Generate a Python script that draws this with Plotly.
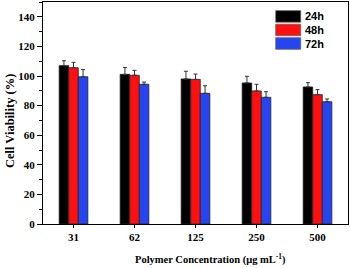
import plotly.graph_objects as go

categories = ["31", "62", "125", "250", "500"]
series_names = ["24h", "48h", "72h"]
v24 = [107.0, 101.1, 98.0, 95.3, 92.6]
v48 = [105.6, 100.5, 97.7, 89.9, 87.4]
v72 = [99.5, 94.4, 88.3, 85.6, 82.6]
e24 = [3.3, 4.7, 5.2, 4.5, 2.9]
e48 = [3.6, 3.3, 3.6, 4.5, 3.4]
e72 = [4.8, 1.5, 5.1, 3.8, 1.9]
colors = ["#000000", "#ff1010", "#2445f0"]
y_ticks = [0, 20, 40, 60, 80, 100, 120, 140]

fig = go.Figure()
for name, vals, errs, col in zip(series_names, [v24, v48, v72], [e24, e48, e72], colors):
    fig.add_trace(go.Bar(
        x=categories, y=vals, name=name,
        marker=dict(color=col, line=dict(color="#222222", width=0.8)),
        error_y=dict(type="data", array=errs, arrayminus=[0]*len(errs), symmetric=False,
                     color="#333333", thickness=1, width=2),
        showlegend=False,
    ))

# legend drawn manually
leg_x0, leg_x1 = 0.763, 0.845
leg_tops = [0.961, 0.900, 0.839]
for name, col, top in zip(series_names, colors, leg_tops):
    fig.add_shape(type="rect", xref="paper", yref="paper",
                  x0=leg_x0, x1=leg_x1, y0=top - 0.052, y1=top,
                  fillcolor=col, line=dict(color="#666666", width=0.8))
    fig.add_annotation(xref="paper", yref="paper", x=leg_x1 + 0.006, y=top - 0.026,
                       text="<b>%s</b>" % name, showarrow=False, xanchor="left", yanchor="middle",
                       font=dict(family="Liberation Sans, Arial", size=11, color="black"))

# axis titles
fig.add_annotation(xref="paper", yref="paper", x=0.55, y=-0.158, yanchor="middle", xanchor="center",
                   text="<b>Polymer Concentration (μg mL<sup>-1</sup>)</b>", showarrow=False,
                   font=dict(family="Liberation Serif", size=10.5, color="black"))
fig.add_annotation(xref="paper", yref="paper", x=-0.108, y=0.464, xanchor="center", yanchor="middle",
                   text="<b>Cell Viability (%)</b>", showarrow=False, textangle=-90,
                   font=dict(family="Liberation Serif", size=12.5, color="black"))

fig.update_layout(
    width=350, height=268,
    margin=dict(l=43, r=2, t=2, b=44),
    plot_bgcolor="white", paper_bgcolor="white",
    barmode="group", bargap=0.53, bargroupgap=0,
    font=dict(family="Liberation Serif, Times New Roman", size=10.5, color="black"),
    xaxis=dict(
        type="category", range=[-0.5, 4.5],
        showline=True, linecolor="black", linewidth=1.2, mirror=True,
        ticks="outside", ticklen=3, tickcolor="black",
        tickvals=categories, ticktext=["<b>%s</b>" % c for c in categories],
        tickfont=dict(family="Liberation Serif", size=11, color="black"),
    ),
    yaxis=dict(
        range=[0, 150], tickvals=y_ticks,
        ticktext=["<b>%d</b>" % t for t in y_ticks],
        showline=True, linecolor="black", linewidth=1.2, mirror=True,
        ticks="outside", ticklen=5, tickcolor="black", showgrid=False, zeroline=False,
        minor=dict(ticks="outside", ticklen=3, dtick=10, tickcolor="black", showgrid=False),
        tickfont=dict(family="Liberation Serif", size=11, color="black"),
    ),
)

fig.write_html("out.html", config={"displayModeBar": False},
               post_script="document.body.style.margin='0';window.dispatchEvent(new Event('resize'));")
